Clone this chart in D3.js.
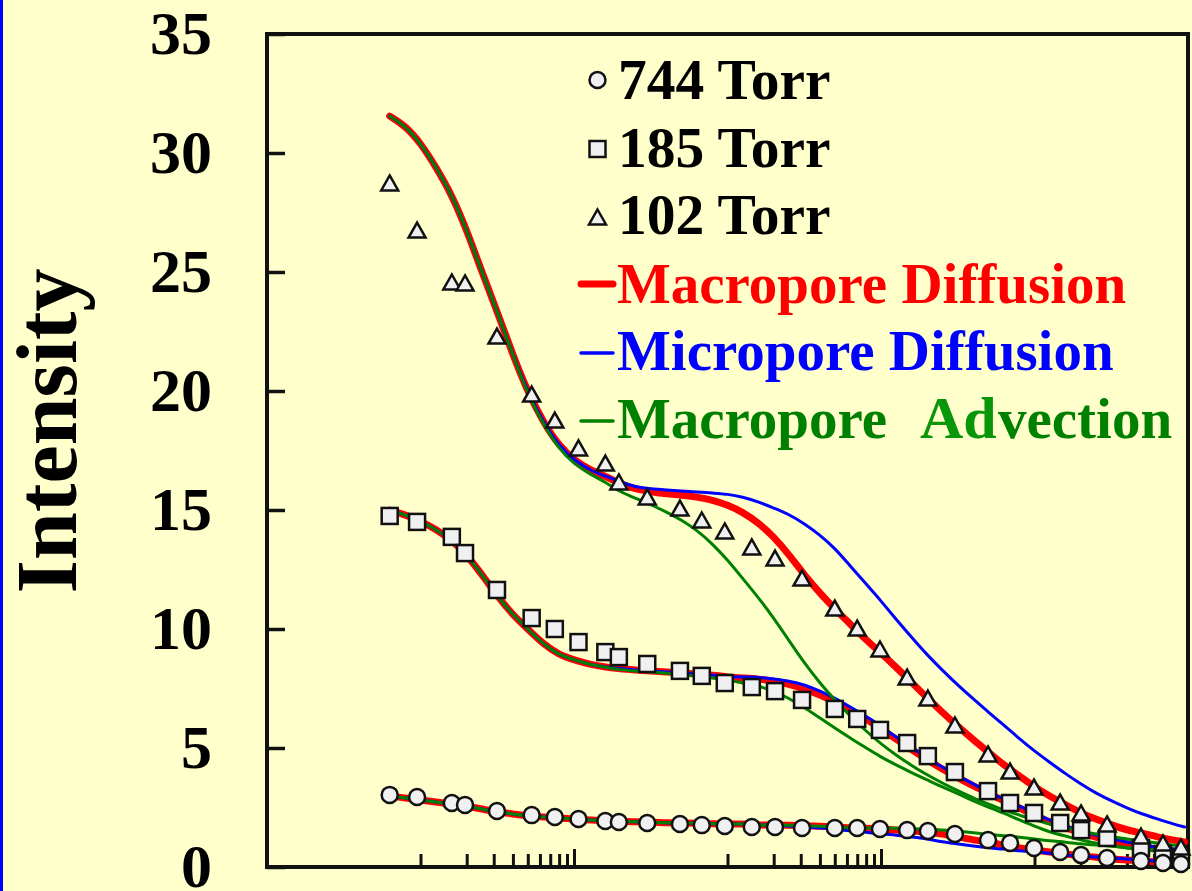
<!DOCTYPE html>
<html>
<head>
<meta charset="utf-8">
<script src="https://cdn.jsdelivr.net/npm/d3@7"></script>
<style>
  html, body { margin: 0; padding: 0; background: #FFFFCC; overflow: hidden; }
  svg { display: block; }
</style>
</head>
<body>
<svg id="chart" width="1192" height="891"></svg>
<script>
// ---- Measured intensities (time on a log axis) ----
const obsTimes = [0.63, 0.95, 1.6, 1.95, 3.15, 5.3, 7.5, 10.7, 16, 19.6, 30, 49, 68, 96, 144, 204,
  306, 500, 700, 985, 1480, 2020, 3030, 4980, 6930, 9930, 14700, 20100, 29700, 49400, 68700, 90000];
const obs744 = [3.03, 2.94, 2.69, 2.61, 2.35, 2.18, 2.10, 2.02, 1.93, 1.89, 1.85, 1.81, 1.76, 1.72, 1.68, 1.68,
  1.64, 1.64, 1.64, 1.60, 1.55, 1.51, 1.39, 1.13, 1.01, 0.80, 0.63, 0.50, 0.38, 0.25, 0.17, 0.13];
const obs185 = [14.75, 14.50, 13.87, 13.19, 11.64, 10.46, 10.00, 9.45, 9.03, 8.82, 8.53, 8.24, 8.03, 7.73, 7.56, 7.39,
  7.02, 6.64, 6.22, 5.76, 5.21, 4.66, 3.99, 3.19, 2.69, 2.27, 1.85, 1.55, 1.22, 0.80, 0.55, 0.38];
const obs102 = [28.74, 26.76, 24.58, 24.54, 22.31, 19.87, 18.78, 17.61, 16.97, 16.18, 15.55, 15.08, 14.58, 14.12, 13.45, 12.98,
  12.14, 10.88, 10.04, 9.16, 7.98, 7.10, 5.97, 4.75, 4.03, 3.36, 2.73, 2.27, 1.81, 1.30, 1.01, 0.84];

// ---- Model curves, sampled on a common time grid ----
const curveTimes = [0.63, 0.8, 1, 1.25, 1.6, 2, 2.5, 3.2, 4, 5, 6.3, 8, 10, 13, 16, 20, 25, 32, 40, 50, 63, 80,
  100, 125, 160, 200, 250, 320, 400, 500, 630, 800, 1000, 1250, 1600, 2000, 2500, 3200, 4000, 5000, 6300, 8000,
  10000, 12500, 16000, 20000, 25000, 32000, 40000, 50000, 63000, 80000, 95000];

const macroDiff102 = [31.55, 31.13, 30.42, 29.45, 28.24, 26.76, 25.04, 23.24, 21.51, 19.96, 18.70, 17.69, 17.10, 16.64, 16.43,
  16.09, 15.88, 15.76, 15.67, 15.63, 15.55, 15.42, 15.21, 14.92, 14.45, 13.87, 13.15, 12.23, 11.51, 10.84, 10.21, 9.54, 8.99,
  8.40, 7.73, 7.10, 6.51, 5.88, 5.34, 4.83, 4.29, 3.82, 3.36, 2.98, 2.61, 2.27, 2.02, 1.76, 1.55, 1.43, 1.26, 1.13, 1.05];
const microDiff102 = [31.55, 31.13, 30.42, 29.45, 28.24, 26.76, 25.04, 23.24, 21.51, 19.96, 18.70, 17.69, 17.10, 16.64, 16.43,
  16.18, 15.97, 15.88, 15.84, 15.80, 15.76, 15.71, 15.67, 15.55, 15.34, 15.08, 14.83, 14.41, 13.95, 13.40, 12.65, 11.89, 11.18,
  10.42, 9.62, 8.91, 8.28, 7.61, 7.06, 6.51, 5.97, 5.38, 4.87, 4.41, 3.91, 3.49, 3.11, 2.77, 2.48, 2.23, 2.02, 1.81, 1.68];
const macroAdv102 = [31.55, 31.13, 30.42, 29.45, 28.24, 26.76, 25.04, 23.24, 21.51, 19.87, 18.61, 17.56, 16.93, 16.47, 16.18,
  15.76, 15.50, 15.21, 14.92, 14.58, 14.16, 13.57, 12.90, 12.14, 11.30, 10.46, 9.54, 8.53, 7.73, 7.02, 6.34, 5.71, 5.17,
  4.71, 4.24, 3.87, 3.53, 3.19, 2.90, 2.65, 2.39, 2.18, 1.97, 1.81, 1.64, 1.51, 1.39, 1.26, 1.18, 1.09, 1.01, 0.92, 0.88];

const macroDiff185 = [15.00, 14.79, 14.54, 14.20, 13.74, 13.11, 12.31, 11.34, 10.59, 10.00, 9.37, 8.91, 8.70, 8.49, 8.40,
  8.32, 8.28, 8.24, 8.19, 8.15, 8.11, 8.07, 7.98, 7.94, 7.90, 7.82, 7.69, 7.48, 7.23, 6.93, 6.60, 6.22, 5.80,
  5.38, 4.92, 4.50, 4.12, 3.74, 3.40, 3.11, 2.77, 2.48, 2.18, 1.89, 1.64, 1.43, 1.26, 1.09, 0.97, 0.84, 0.76, 0.67, 0.63];
const microDiff185 = [15.00, 14.79, 14.54, 14.20, 13.74, 13.11, 12.31, 11.34, 10.59, 10.00, 9.37, 8.91, 8.70, 8.49, 8.40,
  8.32, 8.28, 8.24, 8.19, 8.15, 8.11, 8.07, 7.98, 7.98, 7.98, 7.90, 7.82, 7.65, 7.39, 7.10, 6.72, 6.34, 5.92,
  5.46, 5.00, 4.58, 4.20, 3.82, 3.49, 3.15, 2.86, 2.56, 2.27, 1.97, 1.72, 1.51, 1.34, 1.18, 1.05, 0.92, 0.84, 0.76, 0.71];
const macroAdv185 = [15.00, 14.79, 14.54, 14.20, 13.74, 13.11, 12.31, 11.34, 10.59, 10.00, 9.37, 8.91, 8.70, 8.49, 8.40,
  8.28, 8.24, 8.19, 8.15, 8.07, 8.03, 7.94, 7.86, 7.73, 7.61, 7.39, 7.10, 6.68, 6.26, 5.84, 5.42, 5.00, 4.62,
  4.29, 3.95, 3.66, 3.36, 3.07, 2.77, 2.52, 2.27, 1.97, 1.72, 1.47, 1.30, 1.13, 1.01, 0.88, 0.80, 0.71, 0.67, 0.63, 0.59];

const macroDiff744 = [2.98, 2.90, 2.82, 2.73, 2.65, 2.56, 2.44, 2.31, 2.23, 2.14, 2.10, 2.06, 2.02, 1.97, 1.93,
  1.93, 1.89, 1.89, 1.85, 1.85, 1.85, 1.81, 1.81, 1.81, 1.76, 1.76, 1.76, 1.72, 1.72, 1.68, 1.64, 1.64, 1.60,
  1.55, 1.51, 1.47, 1.39, 1.26, 1.13, 1.05, 0.92, 0.80, 0.71, 0.63, 0.55, 0.46, 0.42, 0.34, 0.29, 0.25, 0.21, 0.17, 0.17];
const microDiff744 = [2.98, 2.90, 2.82, 2.73, 2.65, 2.56, 2.44, 2.31, 2.23, 2.14, 2.10, 2.06, 2.02, 1.97, 1.93,
  1.93, 1.89, 1.89, 1.85, 1.85, 1.85, 1.81, 1.81, 1.81, 1.76, 1.76, 1.72, 1.68, 1.64, 1.60, 1.51, 1.47, 1.39,
  1.34, 1.26, 1.18, 1.05, 0.97, 0.88, 0.80, 0.76, 0.67, 0.63, 0.59, 0.50, 0.46, 0.42, 0.38, 0.34, 0.29, 0.25, 0.21, 0.21];
const macroAdv744 = [2.98, 2.90, 2.82, 2.73, 2.65, 2.56, 2.44, 2.31, 2.23, 2.14, 2.10, 2.06, 2.02, 1.97, 1.93,
  1.93, 1.89, 1.89, 1.85, 1.85, 1.85, 1.81, 1.81, 1.81, 1.76, 1.76, 1.76, 1.72, 1.72, 1.68, 1.64, 1.64, 1.64,
  1.64, 1.60, 1.60, 1.55, 1.51, 1.43, 1.39, 1.30, 1.26, 1.18, 1.09, 1.05, 0.97, 0.92, 0.88, 0.80, 0.76, 0.71, 0.67, 0.63];

// ---- Axis ticks and legend labels ----
const yTicks = [0, 5, 10, 15, 20, 25, 30, 35];
const xMinorTicks = [1, 2, 3, 4, 5, 6, 7, 8, 9, 100, 200, 300, 400, 500, 600, 700, 800, 900,
  10000, 20000, 30000, 40000, 50000, 60000, 70000, 80000, 90000];
const xMajorTicks = [10, 1000];
const pressureLabels = ["744 Torr", "185 Torr", "102 Torr"];
const modelLabels = ["Macropore Diffusion", "Micropore Diffusion", "Macropore  Advection"];
const yTitle = "Intensity";

// ---- Drawing ----
const FONT = "'Liberation Serif', 'Times New Roman', Times, serif";
const RED = "#FF0000", BLUE = "#0000FF", GREEN = "#008000";
const svg = d3.select("#chart");

svg.append("rect").attr("width", 1192).attr("height", 891).attr("fill", "#FFFFCC");
svg.append("rect").attr("x", 0).attr("y", 0).attr("width", 3).attr("height", 891).attr("fill", "#0000FF");

const x = d3.scaleLog().domain([0.1, 1e5]).range([267, 1188]);
const y = d3.scaleLinear().domain([0, 35]).range([867, 34]);

// plot frame
svg.append("rect")
  .attr("x", x.range()[0]).attr("y", y.range()[1])
  .attr("width", x.range()[1] - x.range()[0]).attr("height", y.range()[0] - y.range()[1])
  .attr("fill", "none").attr("stroke", "#111").attr("stroke-width", 4);

// y axis: inward ticks, large bold labels
const gy = svg.append("g")
  .attr("transform", `translate(${x.range()[0]},0)`)
  .call(d3.axisLeft(y).tickValues(yTicks).tickSize(-18).tickPadding(55).tickFormat(d3.format("d")));
gy.select(".domain").remove();
gy.attr("font-family", FONT).attr("font-size", 62).attr("font-weight", "bold");
gy.selectAll(".tick line").attr("stroke", "#111").attr("stroke-width", 3.5);
gy.selectAll(".tick text").attr("fill", "#000");

// x axis: log minor ticks, taller at decades
function xAxisLayer(values, size) {
  const g = svg.append("g")
    .attr("transform", `translate(0,${y.range()[0]})`)
    .call(d3.axisBottom(x).tickValues(values).tickSize(-size).tickFormat(() => ""));
  g.select(".domain").remove();
  g.selectAll(".tick line").attr("stroke", "#111").attr("stroke-width", 3);
  return g;
}
xAxisLayer(xMinorTicks, 13);
xAxisLayer(xMajorTicks, 18);

// y title
svg.append("text")
  .attr("transform", "translate(76,431) rotate(-90)")
  .attr("text-anchor", "middle")
  .attr("font-family", FONT).attr("font-size", 86).attr("font-weight", "bold")
  .attr("fill", "#000")
  .text(yTitle);

// model curves (smoothed through the sampled values)
const line = d3.line()
  .x((d, i) => x(curveTimes[i]))
  .y(d => y(d))
  .curve(d3.curveBasis);

const curveLayers = [
  { color: RED, width: 7, data: [macroDiff102, macroDiff185, macroDiff744] },
  { color: BLUE, width: 3, data: [microDiff102, microDiff185, microDiff744] },
  { color: GREEN, width: 3, data: [macroAdv102, macroAdv185, macroAdv744] }
];
curveLayers.forEach(layer => {
  svg.append("g").selectAll("path")
    .data(layer.data)
    .join("path")
    .attr("d", line)
    .attr("fill", "none")
    .attr("stroke", layer.color)
    .attr("stroke-width", layer.width)
    .attr("stroke-linecap", "round")
    .attr("stroke-linejoin", "round");
});

// marker shapes
const MARK_FILL = "#F0F0F0", MARK_STROKE = "#111";
function drawMarker(sel, kind) {
  if (kind === "circle") {
    sel.append("circle").attr("r", 8);
  } else if (kind === "square") {
    sel.append("rect").attr("x", -8).attr("y", -8).attr("width", 16).attr("height", 16);
  } else {
    sel.append("path").attr("d", "M0,-7.5L8.5,7.5L-8.5,7.5Z");
  }
  sel.selectAll("circle,rect,path")
    .attr("fill", MARK_FILL).attr("stroke", MARK_STROKE).attr("stroke-width", 2.5)
    .attr("stroke-linejoin", "miter");
}

const obsSeries = [
  { kind: "square", values: obs185 },
  { kind: "triangle", values: obs102 },
  { kind: "circle", values: obs744 }
];
obsSeries.forEach(s => {
  svg.append("g").selectAll("g")
    .data(s.values)
    .join("g")
    .attr("transform", (d, i) => `translate(${x(obsTimes[i])},${y(d)})`)
    .each(function () { drawMarker(d3.select(this), s.kind); });
});

// legend: measured pressures
const markerKinds = ["circle", "square", "triangle"];
const legendRowsY = [99, 167, 234];
const legendMarkerY = [80, 149, 217];
pressureLabels.forEach((lab, i) => {
  const g = svg.append("g").attr("transform", `translate(597.5,${legendMarkerY[i]})`);
  drawMarker(g, markerKinds[i]);
  svg.append("text")
    .attr("x", 618).attr("y", legendRowsY[i])
    .attr("font-family", FONT).attr("font-size", 57.5).attr("font-weight", "bold")
    .attr("fill", "#000")
    .text(lab);
});

// legend: model curves
const modelColors = [RED, BLUE, GREEN];
const modelWidths = [7, 3.5, 3.5];
const modelDashY = [284, 353, 421];
const modelTextY = [303, 370, 438];
modelLabels.forEach((lab, i) => {
  svg.append("line")
    .attr("x1", 581).attr("x2", 613)
    .attr("y1", modelDashY[i]).attr("y2", modelDashY[i])
    .attr("stroke", modelColors[i]).attr("stroke-width", modelWidths[i])
    .attr("stroke-linecap", "round");
  const t = svg.append("text")
    .attr("x", 617).attr("y", modelTextY[i])
    .attr("font-family", FONT).attr("font-size", 57).attr("font-weight", "bold")
    .attr("fill", modelColors[i]);
  const words = lab.split(/\s+/);
  if (i === 2) {
    t.append("tspan").text(words[0]);
    t.append("tspan").attr("x", 920).attr("font-size", 60).attr("fill", "#0A960A").text(words[1].slice(0, 2));
    t.append("tspan").attr("x", 998).text(words[1].slice(2));
  } else {
    t.text(lab);
  }
});
</script>
</body>
</html>
